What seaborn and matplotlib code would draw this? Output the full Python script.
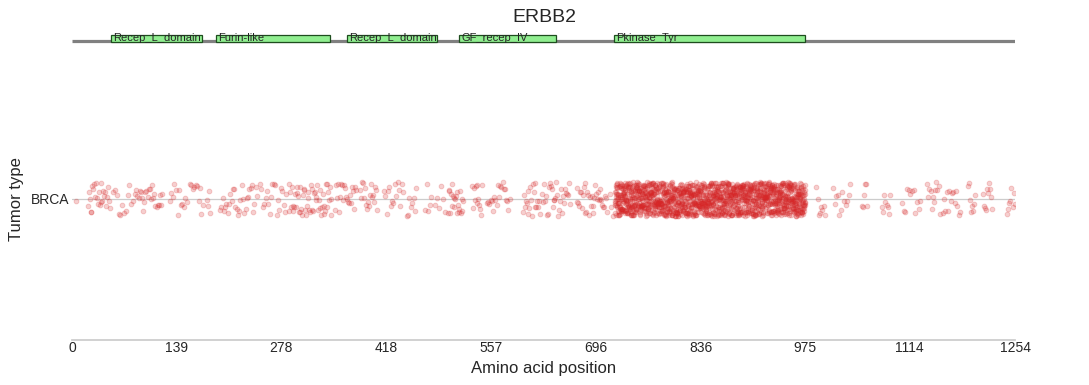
import numpy as np
import pandas as pd
import matplotlib
matplotlib.use("Agg")
import matplotlib.pyplot as plt
from matplotlib.patches import Rectangle
import seaborn as sns

# ---- data ----
gene = "ERBB2"
protein_length = 1254
tumor_type = "BRCA"
xtick_values = [0, 139, 278, 418, 557, 696, 836, 975, 1114, 1254]

domain_names = ["Recep_L_domain", "Furin-like", "Recep_L_domain", "GF_recep_IV", "Pkinase_Tyr"]
domain_starts = [52, 191, 366, 515, 721]
domain_ends = [173, 343, 486, 644, 975]

# mutation clusters: start aa, end aa, number of mutations
cluster_starts = [5, 21, 55, 84, 130, 157, 180, 197, 250, 288, 350, 383, 415, 445, 470, 483,
                  500, 532, 552, 600, 625, 671, 715, 722,
                  990, 1012, 1050, 1077, 1104, 1137, 1158, 1191, 1211, 1243]
cluster_ends = [9, 50, 81, 120, 153, 174, 183, 246, 285, 345, 378, 405, 440, 458, 478, 496,
                520, 545, 582, 622, 662, 711, 719, 975,
                1001, 1035, 1057, 1088, 1128, 1154, 1181, 1201, 1224, 1254]
cluster_counts = [1, 25, 12, 25, 12, 10, 4, 30, 20, 55, 22, 18, 15, 8, 5, 6,
                  22, 12, 20, 20, 30, 35, 3, 1500,
                  8, 12, 6, 8, 12, 12, 14, 8, 10, 8]

positions = np.concatenate([np.linspace(s, e, c) for s, e, c in
                            zip(cluster_starts, cluster_ends, cluster_counts)])
df = pd.DataFrame({"Amino acid position": positions, "Tumor type": tumor_type})

# ---- style ----
sns.set_theme(style="whitegrid")
plt.rcParams["font.family"] = ["Liberation Sans", "DejaVu Sans"]

fig = plt.figure(figsize=(10.89, 3.85), dpi=100)
W, H = 1089, 385
left, right = 72 / W, 1015 / W
ax = fig.add_axes([left, 1 - 340 / H, right - left, (340 - 58) / H])
dax = fig.add_axes([left, 1 - 50 / H, right - left, 20 / H])

np.random.seed(3)
sns.stripplot(data=df, x="Amino acid position", y="Tumor type", orient="h",
              color="#d62728", alpha=0.22, size=3.4, jitter=0.06,
              linewidth=0.7, edgecolor="#d62728", ax=ax)

ax.set_xlim(0, protein_length)
ax.set_xticks(xtick_values)
ax.set_xticklabels([str(v) for v in xtick_values], fontsize=10, color="#262626")
ax.tick_params(axis="x", pad=1, length=0)
ax.tick_params(axis="y", labelsize=10, labelcolor="#262626", pad=2, length=0)
ax.grid(axis="x", visible=False)
ax.grid(axis="y", color="#cccccc", linewidth=0.9)
sns.despine(ax=ax, left=True)
ax.spines["bottom"].set_color("#cccccc")
ax.set_xlabel("Amino acid position", fontsize=12, color="#262626")
ax.set_ylabel("Tumor type", fontsize=12, color="#262626")
ax.xaxis.set_label_coords(0.5, -0.075)
ax.yaxis.set_label_coords(-0.051, 0.5)

# ---- domain track ----
dax.set_xlim(0, protein_length)
dax.set_ylim(0, 1)
dax.axis("off")
dax.plot([0, protein_length], [0.45, 0.45], color="#808080", linewidth=2.3,
         solid_capstyle="butt", zorder=1)
for name, s, e in zip(domain_names, domain_starts, domain_ends):
    dax.add_patch(Rectangle((s, 0.4), e - s, 0.35, facecolor="#90ee90",
                            edgecolor="#1e4d1e", linewidth=0.9, zorder=2))
    dax.text(s + 3, 0.62, name, fontsize=8, color="#262626", va="center", ha="left",
             zorder=3)

fig.text(0.5, 1 - 18 / H, gene, fontsize=14, color="#262626", ha="center", va="center")

fig.savefig("out.png", dpi=100)
